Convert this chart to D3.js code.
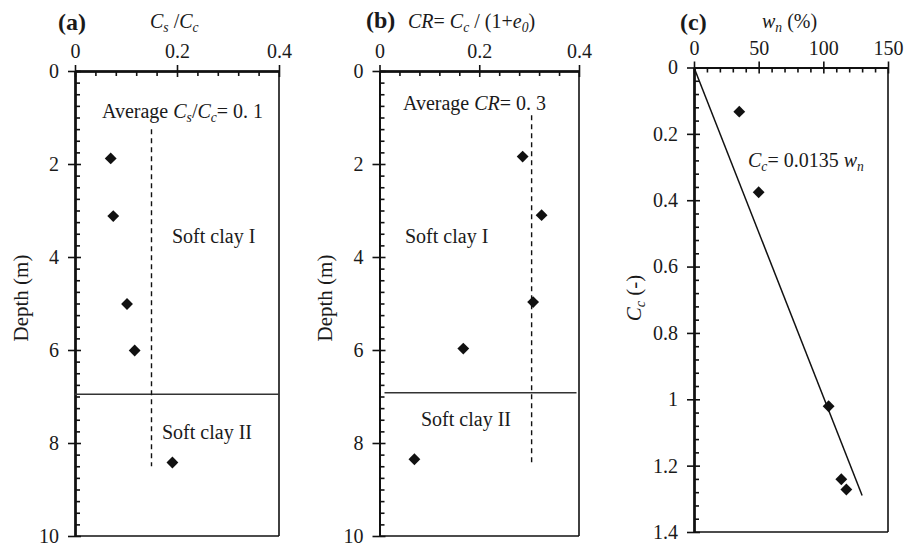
<!DOCTYPE html>
<html><head><meta charset="utf-8">
<script src="https://cdn.jsdelivr.net/npm/d3@7"></script>
<style>
html,body{margin:0;padding:0;background:#fff;}
svg text{font-family:"Liberation Serif","Times New Roman",serif;fill:#1a1a1a;}
</style></head>
<body><svg id="chart" width="913" height="544"></svg>
<script>
// ---- data ----
const depthA = [1.88, 3.12, 5.01, 6.01, 8.42];
const csccA  = [0.070, 0.075, 0.102, 0.117, 0.191];
const depthB = [1.84, 3.10, 4.97, 5.97, 8.35];
const crB    = [0.287, 0.325, 0.308, 0.168, 0.070];
const wnC    = [35.0, 50.0, 104.1, 113.9, 117.8];
const ccC    = [0.133, 0.376, 1.021, 1.241, 1.272];
const avgLineA = [0.15, 1.25, 8.5];   // x, depth from, depth to
const avgLineB = [0.305, 0.95, 8.42];
const fitW  = [0, 130];
const fitCc = [0, 1.29];
const boundaryDepth = [6.95, 6.92];
const depthTicks = [0, 2, 4, 6, 8, 10];
const ratioTicks = [0, 0.2, 0.4];
const wnTicks = [0, 50, 100, 150];
const ccTicks = [0, 0.2, 0.4, 0.6, 0.8, 1, 1.2, 1.4];

const svg = d3.select("#chart");
const FS = 20;

function panel(cfg) {
  const g = svg.append("g");
  const x = d3.scaleLinear().domain(cfg.xd).range(cfg.xr);
  const y = d3.scaleLinear().domain(cfg.yd).range(cfg.yr);
  const x0 = cfg.xr[0], x1 = cfg.xr[1], y0 = cfg.yr[0], y1 = cfg.yr[1];
  // box right & bottom
  g.append("line").attr("x1", x1).attr("x2", x1).attr("y1", y0).attr("y2", y1).attr("stroke", "#111").attr("stroke-width", 1.6);
  g.append("line").attr("x1", x0).attr("x2", x1).attr("y1", y1).attr("y2", y1).attr("stroke", "#111").attr("stroke-width", 1.6);
  // top axis
  const top = g.append("g").attr("transform", `translate(0,${y0})`);
  top.call(d3.axisTop(x).tickValues(cfg.xTicks).tickSize(6).tickSizeOuter(0).tickPadding(7).tickFormat(d => String(d)));
  top.append("g").call(d3.axisTop(x).tickValues(cfg.xTicks).tickSize(-6).tickSizeOuter(0).tickFormat(""));
  top.append("g").call(d3.axisTop(x).tickValues(cfg.xMinor).tickSize(-5).tickSizeOuter(0).tickFormat(""));
  // left axis
  const left = g.append("g").attr("transform", `translate(${x0},0)`);
  left.call(d3.axisLeft(y).tickValues(cfg.yTicks).tickSize(7).tickSizeOuter(0).tickPadding(9).tickFormat(d => String(d)));
  left.append("g").call(d3.axisLeft(y).tickValues(cfg.yTicks).tickSize(-6).tickSizeOuter(0).tickFormat(""));
  left.append("g").call(d3.axisLeft(y).tickValues(cfg.yMinor).tickSize(-5).tickSizeOuter(0).tickFormat(""));
  g.selectAll(".domain").attr("stroke", "#111").attr("stroke-width", 2);
  g.selectAll(".tick line").attr("stroke", "#111").attr("stroke-width", 1.6);
  g.selectAll(".tick text").attr("font-size", FS).attr("font-family", "Liberation Serif").attr("fill", "#1a1a1a");
  return {g, x, y};
}

function rich(g, x, y, parts, opts = {}) {
  const t = g.append("text").attr("x", x).attr("y", y).attr("font-size", opts.size || FS)
    .attr("text-anchor", opts.anchor || "start");
  if (opts.rotate) t.attr("transform", `rotate(-90,${x},${y})`);
  if (opts.bold) t.attr("font-weight", "bold");
  parts.forEach(p => {
    const s = t.append("tspan").text(p.t);
    if (p.i) s.attr("font-style", "italic");
    if (p.sub) s.attr("font-size", (opts.size || FS) * 0.68).attr("dy", "0.28em");
    if (p.back) s.attr("dy", "-0.19em");
  });
  return t;
}

const diamond = d3.symbol().type(d3.symbolSquare).size(70);

function points(p, xs, ys) {
  p.g.selectAll("path.pt").data(xs.map((v, i) => [v, ys[i]])).enter().append("path")
    .attr("class", "pt").attr("d", diamond).attr("fill", "#111")
    .attr("transform", d => `translate(${p.x(d[0])},${p.y(d[1])}) rotate(45)`);
}

// ---- panel a ----
const pa = panel({xd: [0, 0.4], xr: [75, 279], yd: [0, 10], yr: [71, 536],
  xTicks: ratioTicks, xMinor: d3.range(0.04, 0.4, 0.04).filter(v => Math.abs(v - 0.2) > 1e-6),
  yTicks: depthTicks, yMinor: d3.range(0.25, 10, 0.25).filter(v => Math.abs(v % 2) > 1e-6)});
pa.g.append("line").attr("x1", pa.x(0)).attr("x2", pa.x(0.4)).attr("y1", pa.y(boundaryDepth[0])).attr("y2", pa.y(boundaryDepth[0])).attr("stroke", "#333").attr("stroke-width", 1.5);
pa.g.append("line").attr("x1", pa.x(avgLineA[0])).attr("x2", pa.x(avgLineA[0])).attr("y1", pa.y(avgLineA[1])).attr("y2", pa.y(avgLineA[2])).attr("stroke", "#111").attr("stroke-width", 1.4).attr("stroke-dasharray", "5,4");
points(pa, csccA, depthA);
rich(svg, 58, 30, [{t: "(a)"}], {size: 24, bold: true});
rich(svg, 150, 28, [{t: "C", i: 1}, {t: "s", i: 1, sub: 1}, {t: " /", back: 1}, {t: "C", i: 1}, {t: "c", i: 1, sub: 1}]);
rich(svg, 102, 118, [{t: "Average "}, {t: "C", i: 1}, {t: "s", i: 1, sub: 1}, {t: "/", back: 1}, {t: "C", i: 1}, {t: "c", i: 1, sub: 1}, {t: "= 0. 1", back: 1}]);
rich(svg, 172, 243, [{t: "Soft clay I"}]);
rich(svg, 162, 439, [{t: "Soft clay II"}]);
rich(svg, 28, 298, [{t: "Depth (m)"}], {rotate: 1, anchor: "middle", size: 21});

// ---- panel b ----
const pb = panel({xd: [0, 0.4], xr: [379.5, 579], yd: [0, 10], yr: [71, 536],
  xTicks: ratioTicks, xMinor: d3.range(0.04, 0.4, 0.04).filter(v => Math.abs(v - 0.2) > 1e-6),
  yTicks: depthTicks, yMinor: d3.range(0.25, 10, 0.25).filter(v => Math.abs(v % 2) > 1e-6)});
pb.g.append("line").attr("x1", pb.x(0.01)).attr("x2", pb.x(0.395)).attr("y1", pb.y(boundaryDepth[1])).attr("y2", pb.y(boundaryDepth[1])).attr("stroke", "#333").attr("stroke-width", 1.5);
pb.g.append("line").attr("x1", pb.x(avgLineB[0])).attr("x2", pb.x(avgLineB[0])).attr("y1", pb.y(avgLineB[1])).attr("y2", pb.y(avgLineB[2])).attr("stroke", "#111").attr("stroke-width", 1.4).attr("stroke-dasharray", "5,4");
points(pb, crB, depthB);
rich(svg, 366, 28, [{t: "(b)"}], {size: 24, bold: true});
rich(svg, 408, 28, [{t: "CR", i: 1}, {t: "= "}, {t: "C", i: 1}, {t: "c", i: 1, sub: 1}, {t: " / (1+", back: 1}, {t: "e", i: 1}, {t: "0", i: 1, sub: 1}, {t: ")", back: 1}]);
rich(svg, 403, 110, [{t: "Average "}, {t: "CR", i: 1}, {t: "= 0. 3"}]);
rich(svg, 405, 243, [{t: "Soft clay I"}]);
rich(svg, 421, 426, [{t: "Soft clay II"}]);
rich(svg, 332, 298, [{t: "Depth (m)"}], {rotate: 1, anchor: "middle", size: 21});

// ---- panel c ----
const pc = panel({xd: [0, 150], xr: [694, 888], yd: [0, 1.4], yr: [67.5, 532],
  xTicks: wnTicks, xMinor: d3.range(10, 150, 10).filter(v => v % 50 !== 0),
  yTicks: ccTicks, yMinor: d3.range(0.04, 1.4, 0.04).filter(v => Math.abs(v / 0.2 - Math.round(v / 0.2)) > 1e-6)});
pc.g.append("line").attr("x1", pc.x(fitW[0])).attr("y1", pc.y(fitCc[0])).attr("x2", pc.x(fitW[1])).attr("y2", pc.y(fitCc[1])).attr("stroke", "#111").attr("stroke-width", 1.5);
points(pc, wnC, ccC);
rich(svg, 680, 30, [{t: "(c)"}], {size: 24, bold: true});
rich(svg, 762, 28, [{t: "w", i: 1}, {t: "n", i: 1, sub: 1}, {t: " (%)", back: 1}]);
rich(svg, 748, 167, [{t: "C", i: 1}, {t: "c", i: 1, sub: 1}, {t: "= 0.0135 ", back: 1}, {t: "w", i: 1}, {t: "n", i: 1, sub: 1}]);
rich(svg, 641, 298, [{t: "C", i: 1}, {t: "c", i: 1, sub: 1}, {t: " (-)", back: 1}], {rotate: 1, anchor: "middle", size: 21});
</script></body></html>
